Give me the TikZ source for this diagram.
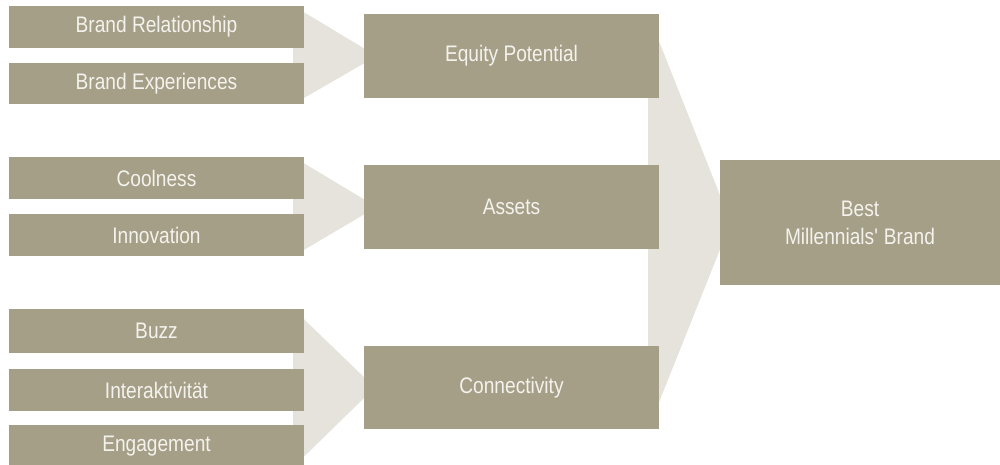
\documentclass[tikz,border=0pt]{standalone}
\usepackage{fontspec}
\setmainfont{Liberation Sans}[FakeStretch=0.85]
\usetikzlibrary{backgrounds}
\definecolor{boxc}{HTML}{A59F88}
\definecolor{lightc}{HTML}{E6E3DC}
\definecolor{txtc}{HTML}{F4F2EC}
\tikzset{
  box/.style={fill=boxc, text=txtc, inner sep=0pt, align=center,
    font=\fontsize{22.5}{28}\selectfont},
  leftbox/.style={box, minimum width=295pt, minimum height=42pt},
  midbox/.style={box, minimum width=295pt, minimum height=84pt},
  bestbox/.style={box, minimum width=280pt, minimum height=125pt},
  flow/.style={fill=lightc}
}
\begin{document}
\begin{tikzpicture}[x=1pt,y=-1pt]
\useasboundingbox (0,0) rectangle (1000,464);
% left column
\node[leftbox] (br)   at (156.5,27)  {Brand Relationship};
\node[leftbox, minimum height=41pt] (be) at (156.5,83.5) {Brand Experiences};
\node[leftbox] (cool) at (156.5,178) {Coolness};
\node[leftbox] (inno) at (156.5,235) {Innovation};
\node[leftbox, minimum height=44pt] (buzz) at (156.5,331) {Buzz};
\node[leftbox] (inter) at (156.5,390) {Interaktivität};
\node[leftbox] (eng)  at (156.5,446) {Engagement};
% middle column
\node[midbox] (eq)  at (511.5,56)  {Equity Potential};
\node[midbox] (ass) at (511.5,207) {Assets};
\node[midbox, minimum height=83pt] (con) at (511.5,387.5) {Connectivity};
% result
\node[bestbox] (best) at (860,222.5) {Best\\Millennials\textquotesingle{} Brand};
% flows
\begin{scope}[on background layer]
\fill[flow] ([xshift=-11pt]br.north east) -- ([xshift=-11pt]be.south east) -- ([xshift=13pt]eq.west) -- cycle;
\fill[flow] ([xshift=-11pt]cool.north east) -- ([xshift=-11pt]inno.south east) -- ([xshift=13pt]ass.west) -- cycle;
\fill[flow] ([xshift=-11pt]buzz.north east) -- ([xshift=-11pt]eng.south east) -- ([xshift=11pt]con.west) -- cycle;
\fill[flow] ([xshift=-11pt]eq.north east) -- ([xshift=-11pt]con.south east) -- ([xshift=11pt]best.west) -- cycle;
\end{scope}
\end{tikzpicture}
\end{document}
